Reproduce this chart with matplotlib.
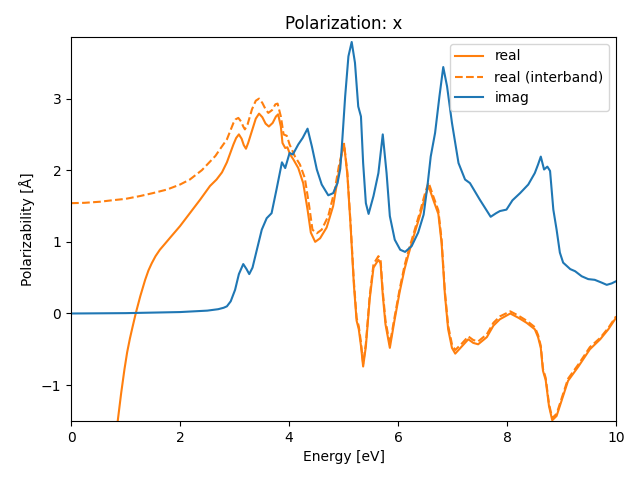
import matplotlib
matplotlib.use("Agg")
import matplotlib.pyplot as plt

# energies [eV] and values
e_real = [0.80, 0.86, 0.92, 0.98, 1.03, 1.08, 1.125, 1.19, 1.27, 1.36, 1.42, 1.48,
          1.55, 1.63, 1.72, 1.82, 2.00, 2.18, 2.37, 2.55, 2.67, 2.77,
          2.86, 2.98, 3.03, 3.08, 3.13, 3.17, 3.21, 3.25, 3.32, 3.39, 3.45, 3.51,
          3.57, 3.63, 3.70, 3.76, 3.80, 3.85, 3.88, 3.93, 3.97,
          4.02, 4.08, 4.17, 4.26, 4.34, 4.40, 4.48, 4.57, 4.69, 4.81, 4.90, 4.97,
          5.01, 5.07, 5.13, 5.19, 5.24, 5.28, 5.32, 5.36, 5.41, 5.48, 5.55, 5.64,
          5.68, 5.72, 5.77, 5.85, 5.93, 6.03, 6.12, 6.19, 6.28, 6.40, 6.50, 6.56,
          6.65, 6.74, 6.80, 6.86, 6.92, 6.99, 7.05, 7.17, 7.29, 7.38, 7.47, 7.63,
          7.75, 7.87, 8.06, 8.21, 8.36, 8.51, 8.57, 8.62, 8.66, 8.71, 8.77, 8.83,
          8.91, 9.00, 9.12, 9.31, 9.52, 9.71, 9.86, 10.0]
real = [-1.85, -1.48, -1.11, -0.78, -0.54, -0.35, -0.20, 0.01, 0.24, 0.47, 0.60, 0.70,
        0.80, 0.89, 0.97, 1.06, 1.22, 1.40, 1.59, 1.78, 1.87, 1.97,
        2.11, 2.36, 2.45, 2.50, 2.44, 2.35, 2.30, 2.38, 2.55, 2.72, 2.79, 2.74,
        2.65, 2.61, 2.66, 2.75, 2.78, 2.61, 2.38, 2.31, 2.32,
        2.22, 2.15, 2.03, 1.82, 1.45, 1.13, 1.00, 1.05, 1.20, 1.50, 1.91, 2.24,
        2.36, 1.94, 1.22, 0.40, -0.10, -0.22, -0.45, -0.74, -0.46, 0.20, 0.64, 0.75,
        0.70, 0.26, -0.15, -0.48, -0.12, 0.30, 0.62, 0.82, 1.06, 1.36, 1.64, 1.78,
        1.58, 1.39, 0.98, 0.27, -0.22, -0.48, -0.56, -0.46, -0.36, -0.41, -0.43, -0.33,
        -0.17, -0.08, 0.00, -0.06, -0.13, -0.22, -0.33, -0.48, -0.80, -0.93, -1.29, -1.49,
        -1.43, -1.22, -0.94, -0.74, -0.50, -0.36, -0.22, -0.06]

e_inter = [0.0, 0.25, 0.53, 0.75, 1.0, 1.27, 1.50, 1.76, 2.00, 2.18, 2.40,
           2.55, 2.65, 2.73, 2.86, 2.98, 3.02, 3.07, 3.12, 3.16, 3.19, 3.24,
           3.32, 3.39, 3.45, 3.51, 3.57, 3.62, 3.69, 3.75, 3.79, 3.85, 3.90, 3.96, 4.01, 4.11, 4.20, 4.29, 4.37,
           4.43, 4.51, 4.60, 4.72, 4.84, 4.92, 5.01, 5.07, 5.13, 5.19, 5.24, 5.28,
           5.32, 5.36, 5.41, 5.48, 5.55, 5.64, 5.68, 5.72, 5.77, 5.85, 5.93, 6.03,
           6.12, 6.19, 6.28, 6.40, 6.50, 6.56, 6.65, 6.74, 6.80, 6.86, 6.92, 6.99,
           7.05, 7.17, 7.29, 7.38, 7.47, 7.63, 7.75, 7.87, 8.06, 8.21, 8.36, 8.51,
           8.57, 8.62, 8.66, 8.71, 8.77, 8.83, 8.91, 9.00, 9.12, 9.31, 9.52, 9.71,
           9.86, 10.0]
real_inter = [1.54, 1.545, 1.56, 1.58, 1.60, 1.64, 1.68, 1.73, 1.80, 1.87, 2.00,
              2.12, 2.20, 2.29, 2.43, 2.66, 2.71, 2.73, 2.68, 2.61, 2.57, 2.64,
              2.85, 2.97, 3.00, 2.94, 2.85, 2.80, 2.84, 2.92, 2.93, 2.75, 2.50, 2.48, 2.36, 2.19, 2.08, 1.89, 1.50,
              1.17, 1.12, 1.17, 1.36, 1.73, 2.08, 2.37, 1.97, 1.25, 0.45, -0.06, -0.18,
              -0.40, -0.70, -0.42, 0.24, 0.69, 0.80, 0.75, 0.31, -0.10, -0.43, -0.08, 0.34,
              0.67, 0.87, 1.10, 1.41, 1.69, 1.83, 1.63, 1.44, 1.03, 0.31, -0.17, -0.43,
              -0.51, -0.42, -0.32, -0.37, -0.39, -0.29, -0.13, -0.04, 0.03, -0.03, -0.10, -0.19,
              -0.30, -0.45, -0.77, -0.90, -1.26, -1.46, -1.40, -1.19, -0.91, -0.71, -0.47, -0.34,
              -0.20, -0.04]

e_imag = [0.0, 1.0, 2.0, 2.5, 2.7, 2.80, 2.86, 2.93, 3.01, 3.08, 3.16, 3.22, 3.27,
          3.33, 3.41, 3.50, 3.59, 3.68, 3.77, 3.87, 3.93, 4.01, 4.07, 4.17, 4.25,
          4.34, 4.42, 4.51, 4.60, 4.72, 4.81, 4.89, 4.94, 4.98, 5.03, 5.09, 5.15,
          5.21, 5.27, 5.32, 5.36, 5.41, 5.46, 5.55, 5.64, 5.72, 5.79, 5.85, 5.94,
          6.04, 6.13, 6.25, 6.37, 6.47, 6.54, 6.60, 6.68, 6.76, 6.83, 6.90, 6.99,
          7.11, 7.23, 7.32, 7.50, 7.70, 7.80, 7.87, 7.99, 8.10, 8.24, 8.39, 8.51,
          8.57, 8.62, 8.68, 8.74, 8.79, 8.85, 8.91, 8.97, 9.03, 9.16, 9.25, 9.37,
          9.49, 9.61, 9.74, 9.83, 9.92, 10.0]
imag = [0.00, 0.005, 0.02, 0.04, 0.06, 0.08, 0.10, 0.17, 0.33, 0.55, 0.69, 0.62, 0.55,
        0.64, 0.89, 1.17, 1.33, 1.40, 1.73, 2.11, 2.03, 2.24, 2.22, 2.36, 2.45,
        2.58, 2.33, 2.01, 1.80, 1.65, 1.68, 1.82, 2.02, 2.45, 3.03, 3.59, 3.79,
        3.50, 2.89, 2.75, 2.10, 1.54, 1.39, 1.64, 1.96, 2.50, 1.96, 1.36, 1.03,
        0.89, 0.86, 0.94, 1.13, 1.38, 1.78, 2.19, 2.52, 3.03, 3.44, 3.17, 2.66,
        2.10, 1.87, 1.82, 1.59, 1.35, 1.40, 1.43, 1.45, 1.58, 1.68, 1.80, 1.96,
        2.08, 2.19, 2.01, 2.05, 1.99, 1.45, 1.17, 0.85, 0.71, 0.62, 0.59, 0.52,
        0.48, 0.47, 0.43, 0.40, 0.42, 0.45]

fig, ax = plt.subplots(figsize=(6.4, 4.8), dpi=100)
ax.plot(e_real, real, color='C1', label='real')
ax.plot(e_inter, real_inter, color='C1', linestyle='--', label='real (interband)')
ax.plot(e_imag, imag, color='C0', label='imag')

ax.set_xlim(0, 10)
ax.set_ylim(-1.5, 3.86)
ax.set_xlabel('Energy [eV]')
ax.set_ylabel('Polarizability [Å]')
ax.set_title('Polarization: x')
ax.legend(loc='upper right')
fig.subplots_adjust(left=0.111, right=0.9625, top=0.923, bottom=0.123)
fig.savefig('out.png')
